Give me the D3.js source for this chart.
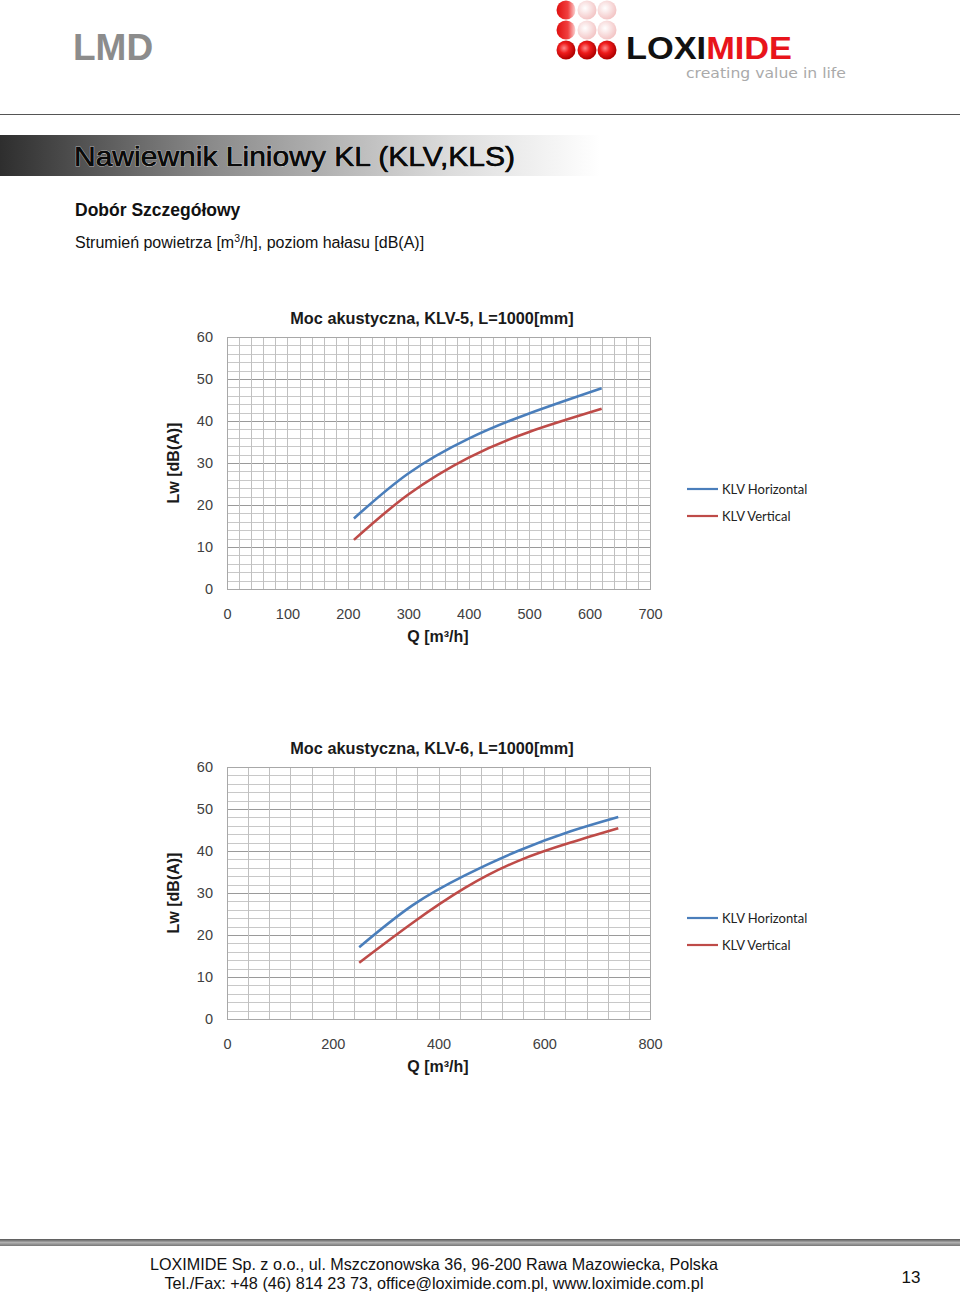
<!DOCTYPE html>
<html><head><meta charset="utf-8">
<script src="https://cdn.jsdelivr.net/npm/d3@7"></script>
<style>body{margin:0;background:#fff}svg{display:block}</style>
</head><body>
<script>
// ---- data ----
const seriesNames = ["KLV Horizontal", "KLV Vertical"];
const seriesColors = ["#4a7ebb", "#be4b48"];
// Chart 1: KLV-5
const q1 = [210, 300, 400, 500, 620];
const h1 = [16.8, 27.5, 35.8, 41.8, 47.8];
const v1 = [11.7, 22.5, 31.3, 37.4, 42.9];
const xTicks1 = [0, 100, 200, 300, 400, 500, 600, 700];
// Chart 2: KLV-6
const q2 = [250, 350, 450, 550, 650, 740];
const h2 = [17.1, 27.0, 34.2, 40.0, 44.7, 48.1];
const v2 = [13.4, 22.8, 31.2, 37.6, 42.0, 45.4];
const xTicks2 = [0, 200, 400, 600, 800];
const yTicks = [0, 10, 20, 30, 40, 50, 60];

const W = 960, H = 1292;
const svg = d3.select("body").append("svg").attr("width", W).attr("height", H);
const defs = svg.append("defs");

// ---- header ----
svg.append("text").attr("x", 73).attr("y", 60).text("LMD")
  .attr("font-family", "Liberation Sans, Arial").attr("font-weight", "bold")
  .attr("font-size", 37).attr("fill", "#8c8c8c");

const rg = defs.append("radialGradient").attr("id", "sph").attr("cx", "40%").attr("cy", "40%").attr("r", "60%");
rg.append("stop").attr("offset", "0%").attr("stop-color", "#ff8a8a");
rg.append("stop").attr("offset", "45%").attr("stop-color", "#ee1c1c");
rg.append("stop").attr("offset", "100%").attr("stop-color", "#b00000");
const rgf = defs.append("radialGradient").attr("id", "sphf").attr("cx", "40%").attr("cy", "40%").attr("r", "60%");
rgf.append("stop").attr("offset", "0%").attr("stop-color", "#ffffff");
rgf.append("stop").attr("offset", "100%").attr("stop-color", "#f3c6c6");
const lgL = defs.append("linearGradient").attr("id", "sphl").attr("x1", "0").attr("x2", "1");
lgL.append("stop").attr("offset", "0%").attr("stop-color", "#e01010");
lgL.append("stop").attr("offset", "60%").attr("stop-color", "#f04040");
lgL.append("stop").attr("offset", "100%").attr("stop-color", "#fbd5d5");
const sphereCols = [566, 587, 607], sphereRows = [10, 30, 50];
const sphereFill = [["url(#sphl)", "url(#sphf)", "url(#sphf)"], ["url(#sphl)", "url(#sphf)", "url(#sphf)"], ["url(#sph)", "url(#sph)", "url(#sph)"]];
sphereRows.forEach((cy, r) => sphereCols.forEach((cx, c) => {
  svg.append("circle").attr("cx", cx).attr("cy", cy).attr("r", 9.5).attr("fill", sphereFill[r][c]);
}));
const logo = svg.append("text").attr("x", 626).attr("y", 59)
  .attr("font-family", "Liberation Sans, Arial").attr("font-weight", "bold").attr("font-size", 32)
  .attr("textLength", 166).attr("lengthAdjust", "spacingAndGlyphs");
logo.append("tspan").attr("fill", "#111").text("LOXI");
logo.append("tspan").attr("fill", "#e8141b").text("MIDE");
svg.append("text").attr("x", 686).attr("y", 78).text("creating value in life")
  .attr("font-family", "DejaVu Sans, sans-serif").attr("font-size", 14.5).attr("fill", "#aaaaaa")
  .attr("textLength", 160).attr("lengthAdjust", "spacingAndGlyphs");

svg.append("line").attr("x1", 0).attr("x2", W).attr("y1", 114.5).attr("y2", 114.5).attr("stroke", "#555").attr("stroke-width", 1);

// ---- banner ----
const bg = defs.append("linearGradient").attr("id", "ban").attr("x1", "0").attr("x2", "1");
bg.append("stop").attr("offset", "0%").attr("stop-color", "#2e2e2e");
bg.append("stop").attr("offset", "35%").attr("stop-color", "#8a8a8a");
bg.append("stop").attr("offset", "75%").attr("stop-color", "#dcdcdc");
bg.append("stop").attr("offset", "100%").attr("stop-color", "#ffffff");
svg.append("rect").attr("x", 0).attr("y", 135).attr("width", 600).attr("height", 41).attr("fill", "url(#ban)");
svg.append("text").attr("x", 74).attr("y", 166).text("Nawiewnik Liniowy KL (KLV,KLS)")
  .attr("font-family", "Liberation Sans, Arial").attr("font-size", 28)
  .attr("fill", "#0a0a0a").attr("stroke", "#e8e8e8").attr("stroke-width", 1.1).attr("paint-order", "stroke")
  .attr("textLength", 441).attr("lengthAdjust", "spacingAndGlyphs");
svg.append("text").attr("x", 74).attr("y", 166).text("Nawiewnik Liniowy KL (KLV,KLS)")
  .attr("font-family", "Liberation Sans, Arial").attr("font-size", 28)
  .attr("fill", "#0a0a0a").attr("stroke", "#0a0a0a").attr("stroke-width", 0.5)
  .attr("textLength", 441).attr("lengthAdjust", "spacingAndGlyphs");

svg.append("text").attr("x", 75).attr("y", 216).text("Dobór Szczegółowy")
  .attr("font-family", "Liberation Sans, Arial").attr("font-weight", "bold").attr("font-size", 17.5).attr("fill", "#111");
const sub = svg.append("text").attr("x", 75).attr("y", 248)
  .attr("font-family", "Liberation Sans, Arial").attr("font-size", 16).attr("fill", "#111");
sub.append("tspan").text("Strumień powietrza [m");
sub.append("tspan").attr("dy", -6).attr("font-size", 10.5).text("3");
sub.append("tspan").attr("dy", 6).text("/h], poziom hałasu [dB(A)]");

// ---- charts ----
function drawChart(cfg) {
  const g = svg.append("g");
  const x = d3.scaleLinear().domain([0, cfg.xMax]).range([227, 650]);
  const y = d3.scaleLinear().domain([0, 60]).range([cfg.bottom, cfg.top]);
  const yMinor = d3.range(0, 61, 2);
  g.selectAll(".hm").data(yMinor).enter().append("line")
    .attr("x1", x(0)).attr("x2", x(cfg.xMax))
    .attr("y1", d => Math.round(y(d)) + 0.5).attr("y2", d => Math.round(y(d)) + 0.5)
    .attr("stroke", d => d % 10 === 0 ? "#9a9a9a" : "#c8c8c8").attr("stroke-width", 1);
  const xMinor = d3.range(0, cfg.xMax + 1, cfg.xMinorStep);
  g.selectAll(".vm").data(xMinor).enter().append("line")
    .attr("y1", y(0)).attr("y2", y(60))
    .attr("x1", d => Math.round(x(d)) + 0.5).attr("x2", d => Math.round(x(d)) + 0.5)
    .attr("stroke", "#c0c0c0").attr("stroke-width", 1);
  g.append("rect").attr("x", x(0) + 0.5).attr("y", y(60) + 0.5)
    .attr("width", x(cfg.xMax) - x(0)).attr("height", y(0) - y(60))
    .attr("fill", "none").attr("stroke", "#a8a8a8");

  const yAx = g.append("g").attr("transform", `translate(${x(0) - 14},0)`)
    .call(d3.axisLeft(y).tickValues(yTicks).tickSize(0).tickPadding(0));
  yAx.select(".domain").remove();
  yAx.selectAll("text").attr("font-family", "Liberation Sans, Arial").attr("font-size", 14.5).attr("fill", "#404040");
  const xAx = g.append("g").attr("transform", `translate(0,${y(0) + 20})`)
    .call(d3.axisBottom(x).tickValues(cfg.xTicks).tickSize(0).tickPadding(0).tickFormat(d3.format("d")));
  xAx.select(".domain").remove();
  xAx.selectAll("text").attr("font-family", "Liberation Sans, Arial").attr("font-size", 14.5).attr("fill", "#404040");

  g.append("text").attr("x", 432).attr("y", cfg.top - 13).attr("text-anchor", "middle").text(cfg.title)
    .attr("font-family", "Liberation Sans, Arial").attr("font-weight", "bold").attr("font-size", 16.3).attr("fill", "#1a1a1a");
  g.append("text").attr("x", 438).attr("y", y(0) + 53).attr("text-anchor", "middle").text("Q [m³/h]")
    .attr("font-family", "Liberation Sans, Arial").attr("font-weight", "bold").attr("font-size", 16).attr("fill", "#1a1a1a");
  g.append("text").attr("transform", `translate(179,${(y(0) + y(60)) / 2}) rotate(-90)`).attr("text-anchor", "middle")
    .text("Lw [dB(A)]").attr("font-family", "Liberation Sans, Arial").attr("font-weight", "bold").attr("font-size", 16).attr("fill", "#1a1a1a");

  const line = d3.line().x(d => x(d[0])).y(d => y(d[1])).curve(d3.curveNatural);
  cfg.series.forEach((vals, i) => {
    g.append("path").datum(cfg.q.map((q, k) => [q, vals[k]]))
      .attr("d", line).attr("fill", "none").attr("stroke", seriesColors[i]).attr("stroke-width", 2.6);
  });
  seriesNames.forEach((n, i) => {
    const ly = cfg.legendY + i * 27;
    g.append("line").attr("x1", 687).attr("x2", 718).attr("y1", ly).attr("y2", ly)
      .attr("stroke", seriesColors[i]).attr("stroke-width", 2.2);
    g.append("text").attr("x", 722).attr("y", ly + 4.5).text(n)
      .attr("font-family", "Lato, sans-serif").attr("font-size", 13).attr("fill", "#222");
  });
}

drawChart({ xMax: 700, xMinorStep: 20, xTicks: xTicks1, top: 337, bottom: 589, q: q1, series: [h1, v1],
  title: "Moc akustyczna, KLV-5, L=1000[mm]", legendY: 489 });
drawChart({ xMax: 800, xMinorStep: 40, xTicks: xTicks2, top: 767, bottom: 1019, q: q2, series: [h2, v2],
  title: "Moc akustyczna, KLV-6, L=1000[mm]", legendY: 918 });

// ---- footer ----
const fg = defs.append("linearGradient").attr("id", "foot").attr("x1", "0").attr("x2", "0").attr("y1", "0").attr("y2", "1");
fg.append("stop").attr("offset", "0%").attr("stop-color", "#555");
fg.append("stop").attr("offset", "50%").attr("stop-color", "#b0b0b0");
fg.append("stop").attr("offset", "100%").attr("stop-color", "#777");
svg.append("rect").attr("x", 0).attr("y", 1239).attr("width", W).attr("height", 7).attr("fill", "url(#foot)");
[["LOXIMIDE Sp. z o.o., ul. Mszczonowska 36, 96-200 Rawa Mazowiecka, Polska", 1270, 568],
 ["Tel./Fax: +48 (46) 814 23 73, office@loximide.com.pl, www.loximide.com.pl", 1289, 539]].forEach(([t, yy, w]) => {
  svg.append("text").attr("x", 434).attr("y", yy).attr("text-anchor", "middle").text(t)
    .attr("font-family", "Liberation Sans Narrow, Liberation Sans, Arial").attr("font-size", 16.5).attr("fill", "#111")
    .attr("textLength", w).attr("lengthAdjust", "spacingAndGlyphs");
});
svg.append("text").attr("x", 911).attr("y", 1283).attr("text-anchor", "middle").text("13")
  .attr("font-family", "Liberation Sans Narrow, Liberation Sans, Arial").attr("font-size", 17).attr("fill", "#111");
</script>
</body></html>
